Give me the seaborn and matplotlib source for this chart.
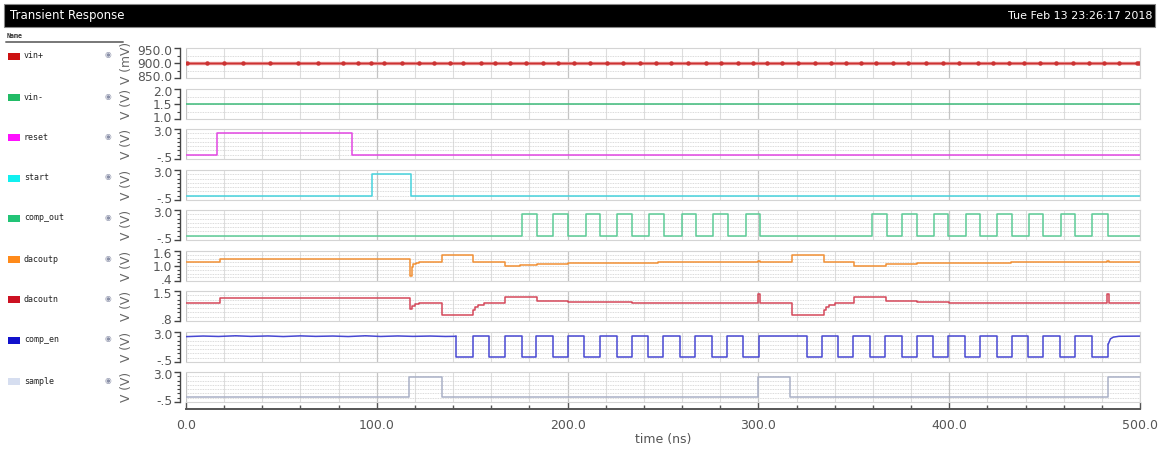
import matplotlib
matplotlib.use("Agg")
import matplotlib.pyplot as plt
import seaborn as sns
from matplotlib.patches import Rectangle
from matplotlib.lines import Line2D
from matplotlib.transforms import ScaledTranslation

# ---------------- data ----------------
signal_names = ["vin+", "vin-", "reset", "start", "comp_out",
                "dacoutp", "dacoutn", "comp_en", "sample"]
legend_colors = ["#cc1111", "#22bb66", "#ff11ff", "#11f0f0", "#22c477",
                 "#ff8a1a", "#cc1122", "#1111cc", "#d6def0"]
line_colors = ["#cc3333", "#3dbb7a", "#e246e2", "#46d2dc", "#5ccb96",
               "#f19034", "#d4485a", "#4848d2", "#a9b0c6"]
y_labels = ["V (mV)", "V (V)", "V (V)", "V (V)", "V (V)",
            "V (V)", "V (V)", "V (V)", "V (V)"]

panel_ylim = [(850.0, 950.0), (1.0, 2.0), (-0.5, 3.0), (-0.5, 3.0), (-0.5, 3.0),
              (0.4, 1.6), (0.8, 1.5), (-0.5, 3.0), (-0.5, 3.0)]
panel_major = [[850.0, 900.0, 950.0], [1.0, 1.5, 2.0], [-0.5, 3.0], [-0.5, 3.0],
               [-0.5, 3.0], [0.4, 1.0, 1.6], [0.8, 1.5], [-0.5, 3.0], [-0.5, 3.0]]
panel_tick_labels = [["850.0", "900.0", "950.0"], ["1.0", "1.5", "2.0"],
                     ["-.5", "3.0"], ["-.5", "3.0"], ["-.5", "3.0"],
                     [".4", "1.0", "1.6"], [".8", "1.5"], ["-.5", "3.0"], ["-.5", "3.0"]]
panel_minor_step = [25.0, 0.25, 0.5, 0.5, 0.5, 0.15, 0.1, 0.5, 0.5]

x_ticks = [0.0, 100.0, 200.0, 300.0, 400.0, 500.0]
x_tick_labels = ["0.0", "100.0", "200.0", "300.0", "400.0", "500.0"]

# vin+ : constant 900 mV, sample markers
vinp_t = [0.4, 11.2, 19.9, 29.7, 44.0, 58.5, 69.0, 82.4, 89.9, 97.2, 104.0, 113.0,
          122.3, 130.0, 138.4, 145.3, 154.5, 162.0, 169.8, 178.2, 186.9, 195.1,
          203.3, 212.0, 220.4, 229.1, 237.8, 246.2, 254.4, 263.1, 272.3, 280.5,
          289.2, 297.0, 304.4, 312.4, 321.0, 329.7, 338.0, 345.8, 353.6, 361.6,
          370.4, 378.6, 387.8, 396.6, 405.3, 414.9, 422.8, 431.5, 439.2, 447.6,
          456.0, 464.7, 473.4, 481.1, 489.2, 498.3, 499.6]
vinp_level = 900.0

vinm_t = [0.0, 500.0]
vinm_v = [1.5, 1.5]

reset_t = [0.0, 16.2, 87.0, 500.0]
reset_v = [0.0, 2.5, 0.0, 0.0]

start_t = [0.0, 97.5, 118.0, 500.0]
start_v = [0.0, 2.5, 0.0, 0.0]

comp_out_rise = [176.3, 192.5, 209.5, 226.1, 242.9, 259.8, 276.3, 293.3,
                 359.7, 375.4, 392.2, 408.6, 425.2, 441.8, 458.4, 475.0]
comp_out_fall = [183.8, 200.4, 217.0, 233.9, 250.7, 267.3, 284.2, 300.8,
                 367.2, 383.0, 399.5, 416.1, 432.7, 449.3, 465.9, 483.4]

dacoutp_t = [0.0, 17.8, 117.4, 118.2, 119.2, 120.5, 122.0, 134.0, 150.6, 167.2,
             175.0, 183.8, 200.4, 247.6, 299.6, 300.6, 317.5, 334.4, 350.3, 358.0,
             367.0, 383.0, 432.4, 482.8, 483.8, 500.0]
dacoutp_v = [1.17, 1.27, 0.60, 0.95, 1.08, 1.14, 1.17, 1.43, 1.17, 1.02,
             1.03, 1.10, 1.13, 1.15, 1.21, 1.15, 1.44, 1.17, 0.99, 1.00,
             1.09, 1.13, 1.15, 1.20, 1.15, 1.15]

dacoutn_t = [0.0, 17.8, 117.4, 118.5, 120.0, 122.0, 134.0, 150.6, 151.5, 153.0,
             156.0, 167.2, 183.8, 200.4, 234.0, 299.6, 300.6, 317.5, 334.4, 335.3,
             337.0, 340.0, 350.3, 367.0, 383.0, 400.0, 482.8, 483.8, 500.0]
dacoutn_v = [1.22, 1.33, 1.07, 1.15, 1.19, 1.21, 0.94, 1.05, 1.13, 1.18,
             1.21, 1.36, 1.27, 1.24, 1.22, 1.42, 1.22, 0.94, 1.05, 1.13,
             1.18, 1.21, 1.36, 1.27, 1.24, 1.22, 1.42, 1.22, 1.22]

comp_en_ripple_t = [0.0, 9.0, 17.0, 26.0, 34.0, 43.0, 51.0, 60.0, 68.0, 77.0,
                    85.0, 94.0, 102.0, 111.0, 119.0, 128.0, 136.0, 141.5]
comp_en_ripple_v = [2.46, 2.53, 2.48, 2.56, 2.49, 2.54, 2.47, 2.55, 2.49, 2.53,
                    2.47, 2.56, 2.48, 2.54, 2.49, 2.53, 2.48, 2.50]
comp_en_fall = [141.5, 159.0, 175.9, 192.2, 208.6, 225.7, 242.3, 258.9, 275.5, 292.1,
                325.3, 341.9, 358.5, 375.1, 391.7, 408.3, 424.9, 441.5, 458.1, 474.7]
comp_en_rise = [150.4, 167.2, 183.6, 200.2, 216.8, 233.6, 250.2, 266.8, 283.4, 300.3,
                333.2, 349.8, 366.3, 383.0, 399.5, 416.1, 432.7, 449.3, 465.9]
comp_en_tail_t = [483.4, 484.5, 486.0, 489.0, 500.0]
comp_en_tail_v = [1.6, 2.2, 2.4, 2.5, 2.52]

sample_t = [0.0, 117.0, 134.0, 300.0, 316.6, 483.0, 500.0]
sample_v = [0.05, 2.45, 0.05, 2.45, 0.05, 2.45, 2.45]

LOW, HIGH = 0.0, 2.5
EN_LOW = 0.05


def edges_to_steps(start_level, ups, downs, t_end, up_level, down_level):
    ev = sorted([(t, up_level) for t in ups] + [(t, down_level) for t in downs])
    ts = [0.0] + [e[0] for e in ev] + [t_end]
    vs = [start_level] + [e[1] for e in ev] + [ev[-1][1]]
    return ts, vs


comp_out_t, comp_out_v = edges_to_steps(LOW, comp_out_rise, comp_out_fall, 500.0, HIGH, LOW)

# comp_en square-wave part (steps): starts from the high level at the first fall
ce_ev = sorted([(t, EN_LOW) for t in comp_en_fall] + [(t, HIGH) for t in comp_en_rise])
comp_en_sq_t = [comp_en_ripple_t[-1]] + [e[0] for e in ce_ev] + [comp_en_tail_t[0]]
comp_en_sq_v = [comp_en_ripple_v[-1]] + [e[1] for e in ce_ev] + [comp_en_tail_v[0]]

series = [
    (vinp_t, [vinp_level] * len(vinp_t)),
    (vinm_t, vinm_v),
    (reset_t, reset_v),
    (start_t, start_v),
    (comp_out_t, comp_out_v),
    (dacoutp_t, dacoutp_v),
    (dacoutn_t, dacoutn_v),
    (comp_en_sq_t, comp_en_sq_v),
    (sample_t, sample_v),
]

# ---------------- layout ----------------
sns.set_theme(style="white")
plt.rcParams["font.family"] = ["DejaVu Sans"]

W, H = 1159, 451
fig = plt.figure(figsize=(W / 100, H / 100), dpi=100)
fig.patch.set_facecolor("white")

def fx(px):
    return px / W

def fy(py):
    return 1 - py / H

# title bar
fig.patches.append(Rectangle((fx(4), fy(27)), fx(1151), 23 / H, transform=fig.transFigure,
                             facecolor="black", edgecolor="#888888", lw=0.8, zorder=0))
fig.text(fx(10), fy(16), "Transient Response", color="white", fontsize=8.5,
         va="center", ha="left")
fig.text(fx(1152), fy(16), "Tue Feb 13 23:26:17 2018", color="white", fontsize=8,
         va="center", ha="right")

# legend column
fig.text(fx(7), fy(36), "Name", fontsize=4.8, color="#333333", va="center", ha="left",
         family="DejaVu Sans Mono", weight="bold")
fig.lines.append(Line2D([fx(6), fx(123)], [fy(42), fy(42)], transform=fig.transFigure,
                        color="#777777", lw=1.4))
legend_y = [56, 97, 137, 178, 218, 259, 299, 340, 381]
for name, col, ly in zip(signal_names, legend_colors, legend_y):
    fig.patches.append(Rectangle((fx(8), fy(ly + 3.5)), fx(12), 7 / H,
                                 transform=fig.transFigure, facecolor=col, edgecolor="none"))
    fig.text(fx(24), fy(ly), name, fontsize=6, color="#222222", va="center", ha="left",
             family="DejaVu Sans Mono")
    fig.text(fx(108), fy(ly - 1), "\u25c9", fontsize=5.5, color="#8a90a8",
             va="center", ha="center")

panel_tops = [48, 89, 129, 170, 210, 251, 291, 332, 372]
panel_h = 30
left_px, right_px = 186, 1140

axes = []
for i, top in enumerate(panel_tops):
    ax = fig.add_axes([fx(left_px), fy(top + panel_h), fx(right_px - left_px), panel_h / H])
    axes.append(ax)
    t, v = series[i]
    if i == 0:
        sns.lineplot(x=[0.0, 500.0], y=[vinp_level, vinp_level], ax=ax, color="#e58a8a",
                     linewidth=2.4, legend=False, estimator=None, sort=False)
        sns.lineplot(x=t, y=v, ax=ax, color=line_colors[i], linewidth=1.0, marker="o",
                     markersize=3.2, markeredgewidth=0, legend=False,
                     estimator=None, sort=False)
    else:
        sns.lineplot(x=t, y=v, ax=ax, color=line_colors[i], linewidth=1.1,
                     drawstyle="steps-post", legend=False, estimator=None, sort=False)
    if i == 7:
        sns.lineplot(x=comp_en_ripple_t, y=comp_en_ripple_v, ax=ax, color=line_colors[i],
                     linewidth=1.1, legend=False, estimator=None, sort=False)
        sns.lineplot(x=comp_en_tail_t, y=comp_en_tail_v, ax=ax, color=line_colors[i],
                     linewidth=1.1, legend=False, estimator=None, sort=False)

    ax.set_xlim(0, 500)
    ax.set_ylim(*panel_ylim[i])
    ax.set_xticks(x_ticks)
    ax.set_xticks([x for x in range(0, 501, 20)], minor=True)
    ax.set_yticks(panel_major[i])
    ax.set_yticklabels(panel_tick_labels[i])
    lo, hi = panel_ylim[i]
    step = panel_minor_step[i]
    n = int(round((hi - lo) / step))
    ax.set_yticks([lo + k * step for k in range(n + 1)], minor=True)

    ax.grid(True, axis="x", which="minor", color="#dddddd", lw=0.8, ls="-")
    ax.grid(True, axis="x", which="major", color="#c4c4c4", lw=0.9, ls="-")
    ax.grid(True, axis="y", which="both", color="#cfcfcf", lw=0.6, ls=(0, (1, 1)))
    ax.set_axisbelow(True)

    for s in ["top", "right", "bottom"]:
        ax.spines[s].set_color("#d4d4d4")
        ax.spines[s].set_linewidth(0.8)
    ax.spines["left"].set_position(("outward", 4.3))
    ax.spines["left"].set_color("#444444")
    ax.spines["left"].set_linewidth(1.0)

    ax.tick_params(axis="x", which="both", length=0, labelbottom=False)
    ax.tick_params(axis="y", which="major", direction="out", length=4, width=1.0,
                   color="#444444", labelsize=8.8, labelcolor="#555555", pad=1.5, left=True)
    ax.tick_params(axis="y", which="minor", direction="out", length=2.5, width=0.8,
                   color="#444444", left=True)

    # nudge the end labels slightly inward so neighbouring panels' labels do not collide
    ticks = ax.yaxis.get_major_ticks()
    for val, tk in zip(panel_major[i], ticks):
        if val == hi:
            dy = -2.2
        elif val == lo:
            dy = 2.2
        else:
            dy = 0.0
        if dy:
            tk.label1.set_transform(tk.label1.get_transform() +
                                    ScaledTranslation(0, dy / 100, fig.dpi_scale_trans))

    ax.set_xlabel("")
    ax.set_ylabel(y_labels[i], fontsize=8.8, color="#666666")
    ax.yaxis.set_label_coords(-0.056, 0.5)

# bottom time axis
axb = axes[-1]
sec = axb.secondary_xaxis(-7 / panel_h)
sec.set_xticks(x_ticks)
sec.set_xticklabels(x_tick_labels)
sec.set_xticks([x for x in range(0, 501, 20)], minor=True)
sec.spines["bottom"].set_color("#555555")
sec.spines["bottom"].set_linewidth(1.4)
sec.tick_params(axis="x", which="major", direction="in", length=5, width=1.0,
                color="#555555", labelsize=9, labelcolor="#555555", pad=7)
sec.tick_params(axis="x", which="minor", direction="in", length=3, width=1.0,
                color="#555555")
sec.set_xlabel("time (ns)", fontsize=9, color="#555555", labelpad=1)

fig.savefig("out.png", dpi=100, facecolor="white")
